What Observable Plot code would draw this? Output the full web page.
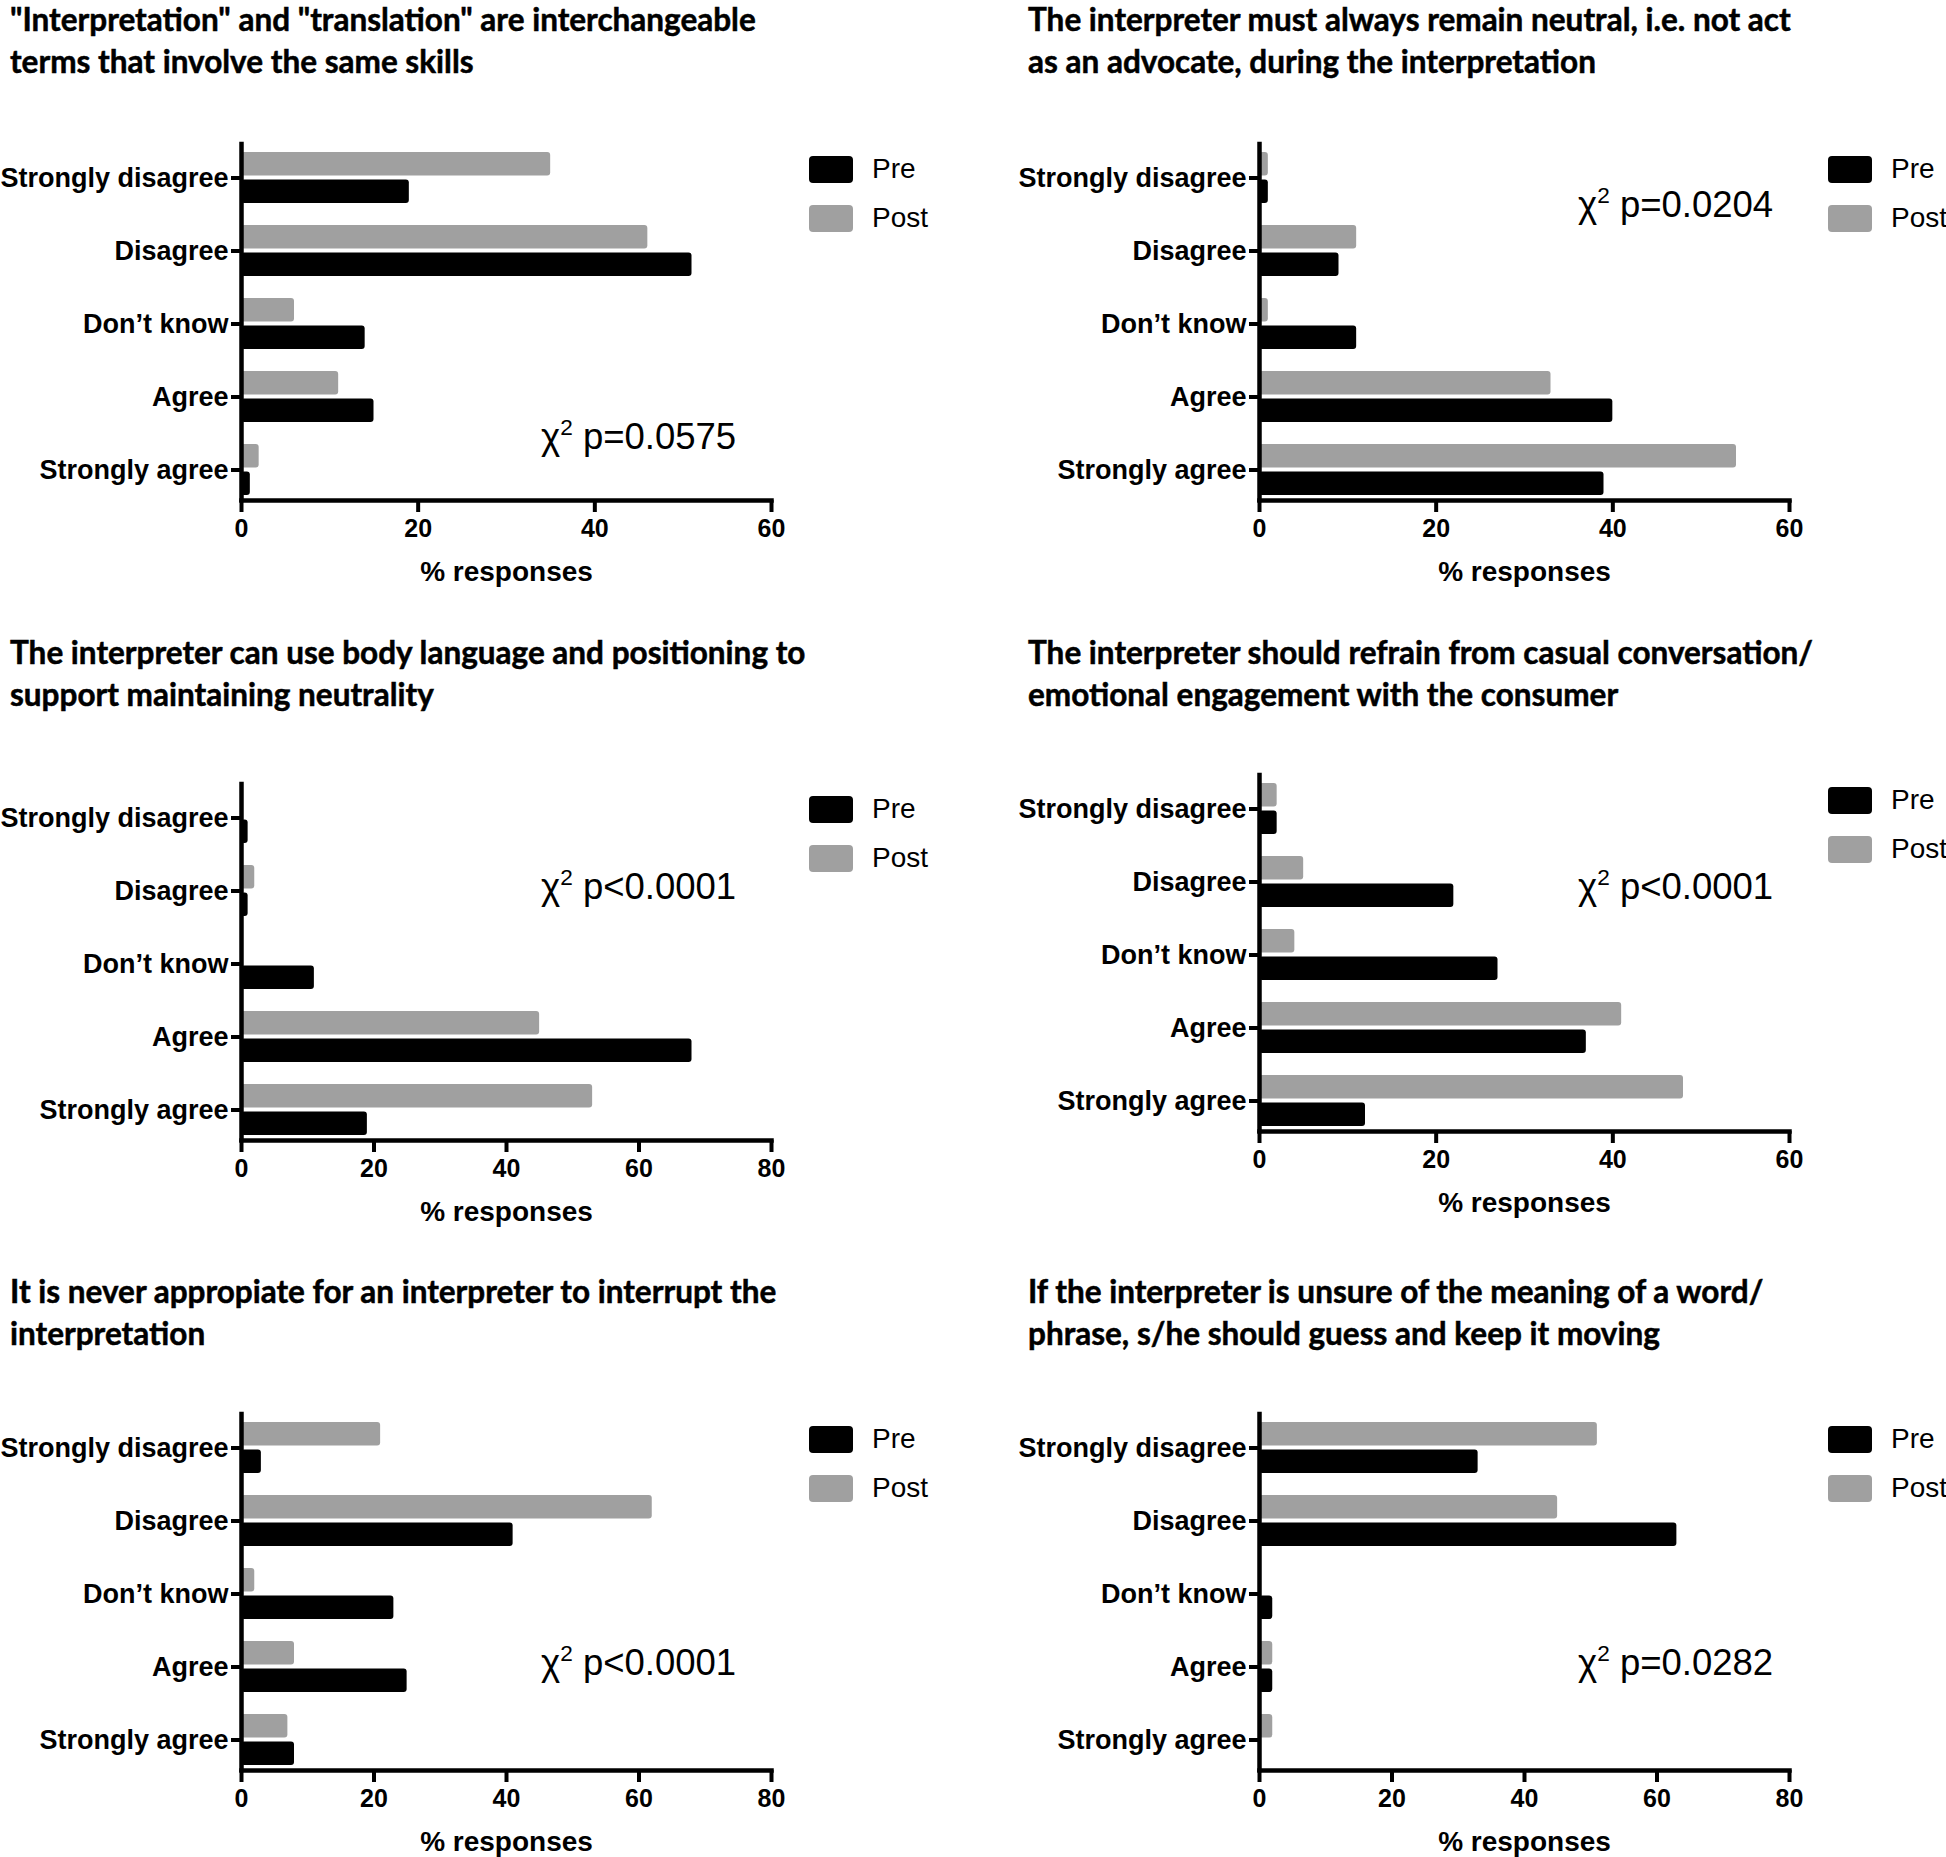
<!DOCTYPE html>
<html><head><meta charset="utf-8">
<script src="https://cdn.jsdelivr.net/npm/d3@7"></script>
<script src="https://cdn.jsdelivr.net/npm/@observablehq/plot@0.6"></script>
<style>
html,body{margin:0;padding:0;background:#fff;}
#page{position:relative;width:1946px;height:1857px;overflow:hidden;background:#fff;}
.tline{position:absolute;font-family:Lato,"Open Sans",sans-serif;font-weight:700;font-size:31.5px;line-height:32px;color:#000;white-space:nowrap;-webkit-text-stroke:0.5px #000;}
.panel{position:absolute;}
.chi{position:absolute;font-family:"Liberation Sans",Arial,sans-serif;font-size:36.5px;line-height:1;white-space:nowrap;transform:translateY(-50%);color:#000;}
.chi sup{font-size:0.62em;vertical-align:0.6em;line-height:0;}
.leg{position:absolute;font-family:"Liberation Sans",Arial,sans-serif;font-size:28px;display:flex;align-items:center;white-space:nowrap;transform:translateY(-50%);color:#000;}
.sw{width:44px;height:27px;border-radius:4px;margin-right:19px;flex:none;}
</style></head><body><div id="page"></div>
<script>
// ---------- data ----------
const categories = ["Strongly disagree", "Disagree", "Don’t know", "Agree", "Strongly agree"];
const seriesNames = ["Pre", "Post"];
const seriesColors = ["#000000", "#a0a0a0"];
const xLabel = "% responses";

const titles = [
  ['"Interpretation" and "translation" are interchangeable', 'terms that involve the same skills'],
  ['The interpreter must always remain neutral, i.e. not act', 'as an advocate, during the interpretation'],
  ['The interpreter can use body language and positioning to', 'support maintaining neutrality'],
  ['The interpreter should refrain from casual conversation/', 'emotional engagement with the consumer'],
  ['It is never appropiate for an interpreter to interrupt the', 'interpretation'],
  ['If the interpreter is unsure of the meaning of a word/', 'phrase, s/he should guess and keep it moving']
];
const pValues = ["p=0.0575", "p=0.0204", "p<0.0001", "p<0.0001", "p<0.0001", "p=0.0282"];

const prePanel1 = [19, 51, 14, 15, 1];
const postPanel1 = [35, 46, 6, 11, 2];
const prePanel2 = [1, 9, 11, 40, 39];
const postPanel2 = [1, 11, 1, 33, 54];
const prePanel3 = [1, 1, 11, 68, 19];
const postPanel3 = [0, 2, 0, 45, 53];
const prePanel4 = [2, 22, 27, 37, 12];
const postPanel4 = [2, 5, 4, 41, 48];
const prePanel5 = [3, 41, 23, 25, 8];
const postPanel5 = [21, 62, 2, 8, 7];
const prePanel6 = [33, 63, 2, 2, 0];
const postPanel6 = [51, 45, 0, 2, 2];

const ticks60 = [0, 20, 40, 60];
const ticks80 = [0, 20, 40, 60, 80];

// ---------- layout ----------
const panels = [
  {pre: prePanel1, post: postPanel1, ticks: ticks60, left: 0,    top: 0,    titleTop: 3,    chi: [541, 437],  leg: 809},
  {pre: prePanel2, post: postPanel2, ticks: ticks60, left: 1018, top: 0,    titleTop: 3,    chi: [1578, 205], leg: 1828},
  {pre: prePanel3, post: postPanel3, ticks: ticks80, left: 0,    top: 640,  titleTop: 636,  chi: [541, 887],  leg: 809},
  {pre: prePanel4, post: postPanel4, ticks: ticks60, left: 1018, top: 631,  titleTop: 636,  chi: [1578, 887], leg: 1828},
  {pre: prePanel5, post: postPanel5, ticks: ticks80, left: 0,    top: 1270, titleTop: 1275, chi: [541, 1663], leg: 809},
  {pre: prePanel6, post: postPanel6, ticks: ticks80, left: 1018, top: 1270, titleTop: 1275, chi: [1578, 1663], leg: 1828}
];
const titleLeft = [10, 1028];
const titleLineGap = 42;

const page = document.getElementById("page");
const W = 973, H = 610, axisTop = 144, axisBottom = 500, band = 73, firstCenter = 177;

panels.forEach((p, i) => {
  // title lines
  titles[i].forEach((s, k) => {
    const t = document.createElement("div");
    t.className = "tline";
    t.style.left = titleLeft[i % 2] + "px";
    t.style.top = (p.titleTop + k * titleLineGap) + "px";
    t.textContent = s;
    page.appendChild(t);
  });

  const rows = [];
  categories.forEach((c, j) => {
    rows.push({category: c, series: seriesNames[0], value: p.pre[j]});
    rows.push({category: c, series: seriesNames[1], value: p.post[j]});
  });
  const xMax = p.ticks[p.ticks.length - 1];

  const svg = Plot.plot({
    width: W, height: H,
    marginLeft: 241, marginRight: 202, marginTop: axisTop, marginBottom: H - axisBottom,
    style: {fontFamily: '"Liberation Sans", Arial, sans-serif', fontWeight: "bold", color: "#000", background: "transparent", overflow: "visible"},
    x: {domain: [0, xMax]},
    y: {type: "band", domain: categories, range: [firstCenter - band / 2, firstCenter + band * 4.5], padding: 0},
    marks: [
      Plot.barX(rows.filter(d => d.series === "Post" && d.value > 0), {x: "value", y: "category", fill: seriesColors[1], insetTop: 11, insetBottom: 38.5, rx: 3}),
      Plot.barX(rows.filter(d => d.series === "Pre" && d.value > 0), {x: "value", y: "category", fill: seriesColors[0], insetTop: 38.5, insetBottom: 11, rx: 3}),
      Plot.ruleX([0], {strokeWidth: 4.5, strokeLinecap: "square"}),
      Plot.frame({anchor: "bottom", strokeWidth: 4.5, strokeLinecap: "square"}),
      Plot.axisY({tickSize: 10, tickPadding: 3, strokeWidth: 4, fontSize: 27, label: null}),
      Plot.axisX({ticks: p.ticks, tickSize: 12, tickPadding: 7, strokeWidth: 4, fontSize: 25, label: null}),
      Plot.text([xLabel], {frameAnchor: "bottom", dy: 80, fontSize: 28})
    ]
  });
  svg.classList.add("panel");
  svg.style.left = p.left + "px";
  svg.style.top = p.top + "px";
  page.appendChild(svg);

  // chi-square annotation
  const c = document.createElement("div");
  c.className = "chi";
  c.style.left = p.chi[0] + "px";
  c.style.top = p.chi[1] + "px";
  c.innerHTML = "χ<sup>2</sup> " + pValues[i].replace(/</g, "&lt;");
  page.appendChild(c);

  // legend
  seriesNames.forEach((s, k) => {
    const l = document.createElement("div");
    l.className = "leg";
    l.style.left = p.leg + "px";
    l.style.top = (p.top + 169 + k * 49) + "px";
    const sw = document.createElement("div");
    sw.className = "sw";
    sw.style.background = seriesColors[k];
    l.appendChild(sw);
    l.appendChild(document.createTextNode(s));
    page.appendChild(l);
  });
});
</script></body></html>
